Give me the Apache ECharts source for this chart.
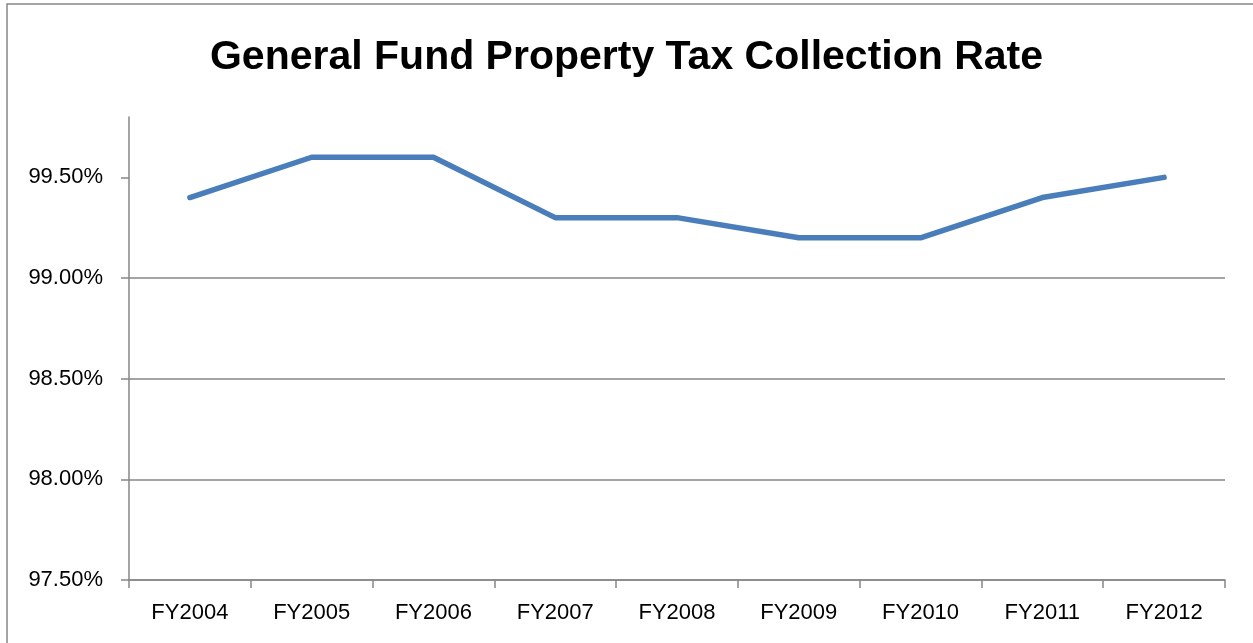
<!DOCTYPE html>
<html>
<head>
<meta charset="utf-8">
<script src="https://cdn.jsdelivr.net/npm/echarts@6/dist/echarts.min.js"></script>
<style>
html,body{margin:0;padding:0;background:#fff;}
#chart{width:1253px;height:643px;}
</style>
</head>
<body>
<div id="chart"></div>
<script>
const titleText = 'General Fund Property Tax Collection Rate';
const categories = ['FY2004','FY2005','FY2006','FY2007','FY2008','FY2009','FY2010','FY2011','FY2012'];
const collectionRate = [99.4, 99.6, 99.6, 99.3, 99.3, 99.2, 99.2, 99.4, 99.5];
const yTicks = [97.5, 98.0, 98.5, 99.0, 99.5];
const yMin = 97.5, yMax = 99.8, yStep = 0.5;

const axisGray = '#868686';
const font = '"Liberation Sans", Arial, sans-serif';

const chart = echarts.init(document.getElementById('chart'), null, {renderer: 'canvas'});
chart.setOption({
  backgroundColor: '#ffffff',
  animation: false,
  title: {
    text: titleText,
    left: 'center',
    top: 32,
    textStyle: {fontFamily: font, fontSize: 41, fontWeight: 'bold', color: '#000'}
  },
  graphic: [{
    type: 'rect',
    shape: {x: 7, y: 4, width: 1300, height: 700},
    style: {fill: 'none', stroke: axisGray, lineWidth: 1.5},
    silent: true
  }],
  grid: {left: 129, right: 28, top: 117, bottom: 63, containLabel: false},
  xAxis: {
    type: 'category',
    data: categories,
    boundaryGap: true,
    axisLine: {lineStyle: {color: axisGray, width: 1.5}},
    axisTick: {show: true, length: 8, interval: 0, lineStyle: {color: axisGray, width: 1.5}},
    axisLabel: {margin: 22, fontFamily: font, fontSize: 22, color: '#000', interval: 0},
    splitLine: {show: false}
  },
  yAxis: {
    type: 'value',
    min: yMin,
    max: yMax,
    interval: yStep,
    axisLine: {show: true, lineStyle: {color: axisGray, width: 1.5}},
    axisTick: {show: true, length: 8, customValues: yTicks, lineStyle: {color: axisGray, width: 1.5}},
    axisLabel: {
      customValues: yTicks,
      margin: 26,
      fontFamily: font, fontSize: 22, color: '#000',
      formatter: v => v.toFixed(2) + '%'
    },
    splitLine: {show: true, showMaxLine: false, lineStyle: {color: axisGray, width: 1.5}}
  },
  series: [{
    type: 'line',
    data: collectionRate,
    symbol: 'none',
    lineStyle: {color: '#4A7EBB', width: 5.5, cap: 'round', join: 'round'},
    itemStyle: {color: '#4A7EBB'}
  }]
});
</script>
</body>
</html>
